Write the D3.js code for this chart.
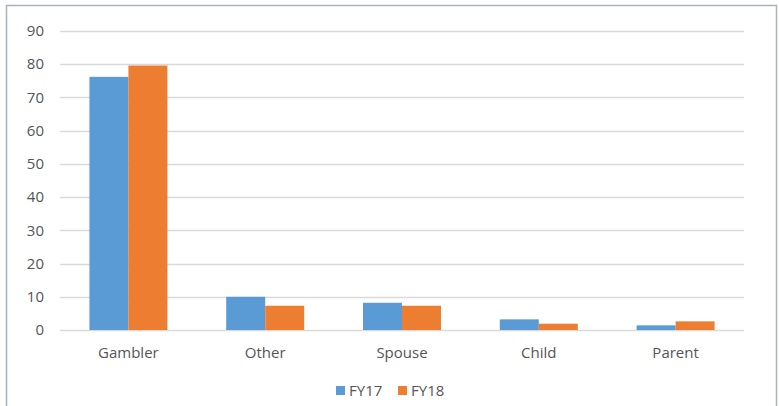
<!DOCTYPE html>
<html lang="en">
<head>
  <meta charset="utf-8">
  <title>FY17 vs FY18</title>
  <script src="https://d3js.org/d3.v7.min.js"></script>
  <style>
    body { margin: 0; background: #fff; }
    #chart text { font-family: "Open Sans", sans-serif; fill: #555; }
  </style>
</head>
<body>
  <div id="chart"></div>
  <script>
    "use strict"

    // dados
    var categorias = ["Gambler", "Other", "Spouse", "Child", "Parent"];
    var series = ["FY17", "FY18"];
    var fy17 = [76.2, 10.0, 8.2, 3.2, 1.4];
    var fy18 = [79.6, 7.3, 7.3, 1.9, 2.6];
    var yTicks = [0, 10, 20, 30, 40, 50, 60, 70, 80, 90];
    var cores = ["#5b9bd5", "#ed7d31"];

    var largura = 779, altura = 406;
    var margin = {top: 31, right: 35, bottom: 76, left: 60},
        larguraVis = largura - margin.left - margin.right,
        alturaVis = altura - margin.top - margin.bottom;

    var svg = d3.select("#chart").append("svg")
      .attr("width", largura)
      .attr("height", altura);

    // moldura
    svg.append("rect")
      .attr("x", 6.5).attr("y", 5.5)
      .attr("width", 770).attr("height", 420)
      .attr("fill", "none")
      .attr("stroke", "#a9b3bd")
      .attr("stroke-width", 1.5);

    var g = svg.append("g")
      .attr("transform", "translate(" + margin.left + "," + margin.top + ")");

    var x = d3.scaleBand().domain(categorias).range([0, larguraVis]).paddingInner(0).paddingOuter(0);
    var x1 = d3.scaleBand().domain(series).range([x.bandwidth() * 0.215, x.bandwidth() * 0.785]);
    var y = d3.scaleLinear().domain([0, 90]).range([alturaVis, 0]);

    // grade
    g.append("g").selectAll("line")
      .data(yTicks)
      .enter().append("line")
        .attr("x1", 0).attr("x2", larguraVis)
        .attr("y1", d => Math.round(y(d)) + 0.5)
        .attr("y2", d => Math.round(y(d)) + 0.5)
        .attr("stroke", "#d9d9d9")
        .attr("stroke-width", 1.3);

    // rotulos do eixo y
    g.append("g").selectAll("text")
      .data(yTicks)
      .enter().append("text")
        .attr("x", -16)
        .attr("y", d => y(d))
        .attr("dy", "0.35em")
        .attr("text-anchor", "end")
        .style("font-size", "15px")
        .text(d => d);

    // barras
    var dados = categorias.map((c, i) => ({cat: c, valores: [fy17[i], fy18[i]]}));
    var grupos = g.selectAll(".grupo")
      .data(dados)
      .enter().append("g")
        .attr("transform", d => "translate(" + x(d.cat) + ",0)");

    grupos.selectAll("rect")
      .data(d => d.valores.map((v, j) => ({serie: series[j], valor: v, cor: cores[j]})))
      .enter().append("rect")
        .attr("x", d => x1(d.serie))
        .attr("width", x1.bandwidth())
        .attr("y", d => y(d.valor))
        .attr("height", d => y(0) - y(d.valor))
        .attr("fill", d => d.cor);

    // rotulos das categorias
    g.append("g").selectAll("text")
      .data(categorias)
      .enter().append("text")
        .attr("x", d => x(d) + x.bandwidth() / 2)
        .attr("y", alturaVis + 23)
        .attr("dy", "0.35em")
        .attr("text-anchor", "middle")
        .style("font-size", "15px")
        .text(d => d);

    // legenda
    var legenda = svg.append("g").selectAll("g")
      .data(series)
      .enter().append("g")
        .attr("transform", (d, i) => "translate(" + (336 + i * 62) + ",386)");

    legenda.append("rect")
      .attr("width", 9).attr("height", 9)
      .attr("fill", (d, i) => cores[i]);

    legenda.append("text")
      .attr("x", 13).attr("y", 4.5)
      .attr("dy", "0.35em")
      .style("font-size", "15px")
      .text(d => d);
  </script>
</body>
</html>
